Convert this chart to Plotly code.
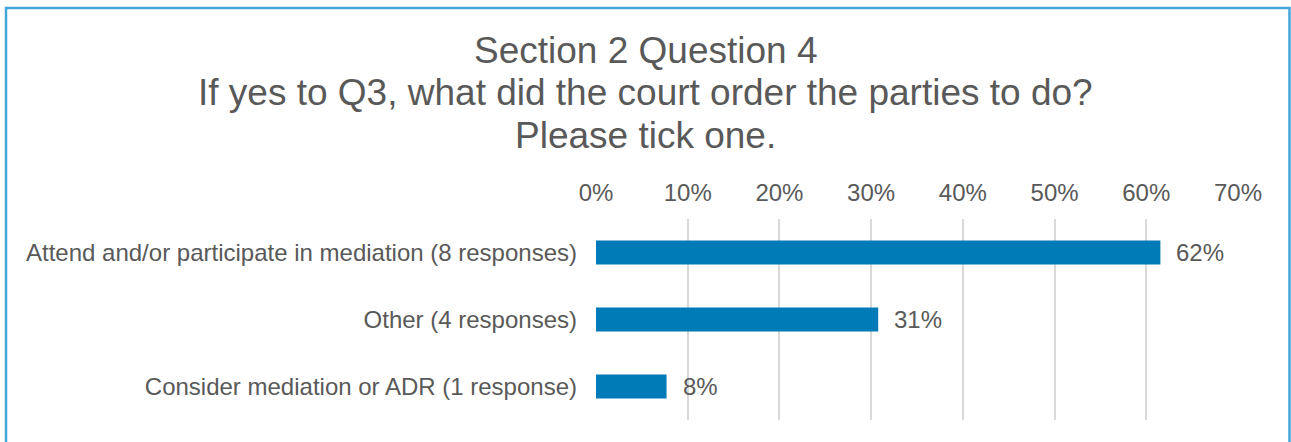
import plotly.graph_objects as go

# Survey responses (13 in total)
categories = [
    "Attend and/or participate in mediation (8 responses)",
    "Other (4 responses)",
    "Consider mediation or ADR (1 response)",
]
responses = [8, 4, 1]
total_responses = 13
shares = [r / total_responses for r in responses]

tick_values = [0, 0.1, 0.2, 0.3, 0.4, 0.5, 0.6, 0.7]
tick_labels = ["0%", "10%", "20%", "30%", "40%", "50%", "60%", "70%"]

title_lines = [
    "Section 2 Question 4",
    "If yes to Q3, what did the court order the parties to do?",
    "Please tick one.",
]

W, H = 1291, 442
ML, MR, MT, MB = 596, 53, 219, 22
PW, PH = W - ML - MR, H - MT - MB

TEXT = "#595959"
FONT = "Liberation Sans, Arial, sans-serif"

fig = go.Figure(
    go.Bar(
        x=shares,
        y=categories,
        orientation="h",
        marker=dict(color="#007BB8", line=dict(width=0)),
        hoverinfo="skip",
    )
)


def px_x(px):
    return (px - ML) / PW


def px_y(px):
    return (H - MB - px) / PH


# Value labels to the right of each bar
for cat, val in zip(categories, shares):
    fig.add_annotation(
        x=val, y=cat, xref="x", yref="y",
        text=f"{val:.0%}",
        showarrow=False,
        xanchor="left", yanchor="middle",
        xshift=14,
        font=dict(size=24, color=TEXT, family=FONT),
    )

# Three-line heading
for i, (line, ypx) in enumerate(zip(title_lines, [50, 92.5, 135])):
    fig.add_annotation(
        x=0.5, y=1 - ypx / H, xref="paper", yref="paper",
        text=line,
        showarrow=False,
        xanchor="center", yanchor="middle",
        font=dict(size=37, color=TEXT, family=FONT),
    )

# Chart frame
fig.add_shape(
    type="rect",
    xref="paper", yref="paper",
    x0=px_x(6), x1=px_x(1289.5),
    y0=px_y(460), y1=px_y(8),
    line=dict(color="#41A7DA", width=2.5),
    fillcolor="rgba(0,0,0,0)",
    layer="below",
)

fig.update_layout(
    width=W, height=H,
    margin=dict(l=ML, r=MR, t=MT, b=MB, pad=0),
    paper_bgcolor="white",
    plot_bgcolor="white",
    bargap=0.64,
    showlegend=False,
    font=dict(family=FONT, color=TEXT, size=24),
    xaxis=dict(
        side="top",
        range=[0, 0.7],
        tickvals=tick_values,
        ticktext=tick_labels,
        showgrid=True,
        gridcolor="#D9D9D9",
        gridwidth=1.5,
        zeroline=False,
        showline=False,
        ticks="",
        ticklabelstandoff=12,
        tickfont=dict(size=24, color=TEXT, family=FONT),
        fixedrange=True,
    ),
    yaxis=dict(
        autorange="reversed",
        showgrid=False,
        zeroline=False,
        showline=False,
        ticks="",
        ticklabelstandoff=18,
        tickfont=dict(size=24, color=TEXT, family=FONT),
        fixedrange=True,
    ),
)

# Heading annotations are positioned against the full page height
for ann in fig.layout.annotations:
    if ann.xref == "paper" and ann.text in title_lines:
        ypx = (1 - ann.y) * H
        ann.y = px_y(ypx)
        ann.x = px_x(W / 2)

fig.write_html("out.html")
